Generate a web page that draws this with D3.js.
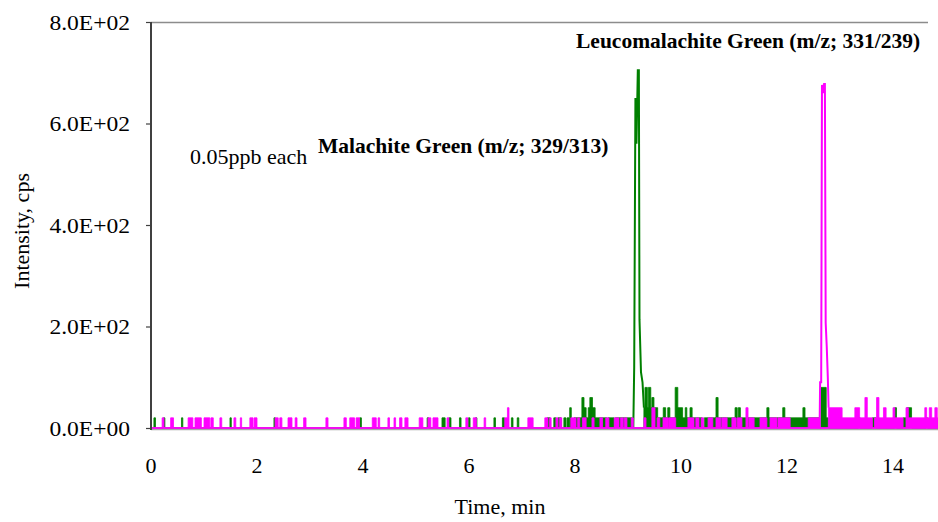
<!DOCTYPE html>
<html>
<head>
<meta charset="utf-8">
<script src="https://cdn.jsdelivr.net/npm/d3@7"></script>
<style>
  html, body { margin: 0; padding: 0; background: #fff; }
  svg { display: block; }
  text { font-family: "Liberation Serif", "Times New Roman", serif; fill: #000; }
</style>
</head>
<body>
<svg id="chart" width="938" height="522"></svg>
<script>
// ---------------- data ----------------
const xTicks = [0, 2, 4, 6, 8, 10, 12, 14];
const yTicks = [0, 200, 400, 600, 800];
const yTickLabels = ["0.0E+00", "2.0E+02", "4.0E+02", "6.0E+02", "8.0E+02"];
const xTitle = "Time, min";
const yTitle = "Intensity, cps";
const sampleNote = "0.05ppb each";
const mgLabel = "Malachite Green (m/z; 329/313)";
const lmgLabel = "Leucomalachite Green (m/z; 331/239)";

// Malachite Green noise: [start min, end min, intensity cps]
const mgNoise = [
  [0.055,0.085,20],[0.235,0.262,20],[0.575,0.60,20],[1.49,1.515,20],[2.32,2.345,20],
  [3.94,3.97,20],[5.21,5.24,20],[5.49,5.55,20],[5.62,5.66,20],[5.82,5.85,20],
  [5.99,6.02,20],[6.12,6.15,20],[6.47,6.50,20],[6.63,6.67,20],[6.80,6.83,20],
  [6.91,6.94,20],[7.47,7.53,20],[7.60,7.64,20],[7.68,7.74,20],[7.79,7.83,20],
  [7.85,7.89,20],[7.90,7.93,40],[7.98,8.13,20],[8.13,8.17,60],[8.17,8.21,40],
  [8.21,8.25,20],[8.25,8.28,40],[8.28,8.33,60],[8.33,8.38,40],[8.38,8.60,20],
  [8.62,8.74,20],[8.76,9.08,20],
  [9.30,9.32,40],[9.32,9.365,80],[9.365,9.385,40],[9.385,9.43,80],[9.43,9.45,40],
  [9.45,9.49,60],[9.49,9.56,40],[9.56,9.665,20],[9.665,9.71,40],[9.71,9.75,20],
  [9.75,9.79,40],[9.79,9.89,20],[9.89,9.94,80],[9.94,10.03,40],[10.03,10.08,20],
  [10.08,10.11,40],[10.11,10.17,20],[10.17,10.21,40],[10.21,10.40,20],[10.44,10.66,20],
  [10.66,10.70,60],[10.70,11.02,20],[11.02,11.06,40],[11.06,11.08,20],[11.08,11.12,40],
  [11.12,11.62,20],[11.62,11.66,40],[11.66,11.92,20],[11.92,11.96,40],[11.96,12.30,20],
  [12.30,12.34,40],[12.34,12.62,20],[12.64,12.74,80],[12.74,12.78,20],
  [13.35,13.38,20],[13.61,13.68,20],[14.03,14.065,40],[14.19,14.26,20],[14.26,14.35,40],
  [14.62,14.65,20]
];
// Malachite Green peak: [min, cps]
const mgPeak = [
  [9.10,0],[9.117,120],[9.14,650],[9.16,560],[9.185,705],[9.205,705],
  [9.217,213],[9.245,110],[9.274,90],[9.30,40]
];

// Leucomalachite Green noise: [start min, end min, intensity cps]
const lmgNoise = [
  [0.21,0.245,20],[0.37,0.425,20],[0.70,0.79,20],[0.83,0.95,20],[1.00,1.11,20],
  [1.13,1.175,20],[1.30,1.335,20],[1.565,1.60,20],[1.685,1.71,20],[1.865,1.925,20],
  [1.945,2.00,20],[2.34,2.40,20],[2.43,2.47,20],[2.585,2.66,20],[2.72,2.755,20],
  [2.88,2.925,20],[3.30,3.34,20],[3.64,3.685,20],[3.75,3.84,20],[3.87,3.935,20],
  [4.175,4.25,20],[4.285,4.315,20],[4.47,4.50,20],[4.585,4.615,20],[4.69,4.735,20],
  [4.79,4.85,20],[5.06,5.13,20],[5.225,5.28,20],[5.32,5.415,20],[5.585,5.62,20],
  [5.94,5.98,20],[6.08,6.14,20],[6.285,6.315,20],[6.675,6.725,20],[6.725,6.755,40],
  [7.11,7.21,20],[7.43,7.49,20],[7.52,7.55,20],[7.64,7.68,20],[7.71,7.75,20],
  [7.92,8.02,20],[8.05,8.09,20],[8.14,8.21,20],[8.32,8.36,20],[8.47,8.52,20],
  [8.58,8.64,20],[8.74,8.83,20],[8.86,8.91,20],[8.93,8.98,20],[9.06,9.10,20],
  [9.30,9.34,20],[9.45,9.51,40],[9.55,9.60,20],[9.66,9.76,20],[9.77,9.90,20],
  [10.13,10.245,20],[10.28,10.34,20],[10.38,10.43,20],[10.51,10.60,20],[10.66,10.75,20],
  [10.77,10.87,20],[10.96,11.04,20],[11.06,11.15,20],[11.225,11.265,40],[11.28,11.38,20],
  [11.49,11.62,20],[11.68,11.81,20],[11.83,12.06,20],[12.40,12.62,20],
  [12.78,13.04,40],[13.04,13.28,20],[13.28,13.37,40],[13.37,13.47,20],[13.47,13.515,60],
  [13.515,13.61,20],[13.65,13.69,20],[13.69,13.735,60],[13.735,13.82,20],[13.82,13.87,40],
  [13.87,14.0,20],[14.0,14.035,40],[14.035,14.19,20],[14.245,14.29,40],[14.29,14.60,20],
  [14.60,14.635,40],[14.635,14.685,20],[14.685,14.73,40],[14.73,14.79,20],[14.79,14.835,40],
  [14.835,14.9,20]
];
// Leucomalachite Green peak: [min, cps]
const lmgPeak = [
  [12.615,0],[12.625,90],[12.645,90],[12.66,676],[12.685,660],[12.70,678],
  [12.715,678],[12.73,207],[12.75,160],[12.77,100],[12.785,40]
];

const mgColor = "#008000";
const lmgColor = "#ff00ff";

// ---------------- layout ----------------
const svg = d3.select("#chart");
const plotLeft = 151, plotTop = 22, plotBottom = 428, frameRight = 928, dataRight = 938;
const tMax = 14.9;
const fontFamily = "Liberation Serif";

const x = d3.scaleLinear().domain([0, 14]).range([plotLeft, plotLeft + 14 * 53]);
const y = d3.scaleLinear().domain([0, 800]).range([plotBottom, plotTop]);

// build filled-noise points from runs
function runsToPoints(runs) {
  const pts = [[0, 0]];
  runs.forEach(([a, b, v]) => { pts.push([a, 0], [a, v], [b, v], [b, 0]); });
  pts.push([tMax, 0]);
  return pts;
}
// widen text slightly to match reference glyph proportions
function stretch(sel, f) {
  sel.each(function () {
    const w = this.getComputedTextLength();
    d3.select(this).attr("textLength", w * f).attr("lengthAdjust", "spacingAndGlyphs");
  });
}

svg.append("clipPath").attr("id", "clip")
  .append("rect").attr("x", plotLeft).attr("y", 0).attr("width", dataRight - plotLeft).attr("height", 440);

// frame lines
svg.append("line").attr("x1", plotLeft).attr("x2", frameRight).attr("y1", plotTop + 0.5).attr("y2", plotTop + 0.5)
  .attr("stroke", "#8c8c8c").attr("stroke-width", 1.5);
svg.append("line").attr("x1", plotLeft).attr("x2", dataRight).attr("y1", plotBottom + 1.5).attr("y2", plotBottom + 1.5)
  .attr("stroke", "#a8a8a8").attr("stroke-width", 1.5);

const area = d3.area().x(d => x(d[0])).y0(y(0)).y1(d => y(d[1]));
const line = d3.line().x(d => x(d[0])).y(d => y(d[1]));

const plot = svg.append("g").attr("clip-path", "url(#clip)");

// green (drawn first)
plot.append("path").datum(runsToPoints(mgNoise)).attr("d", area)
  .attr("fill", mgColor).attr("stroke", mgColor).attr("stroke-width", 0.8);
plot.append("path").datum(mgPeak).attr("d", line)
  .attr("fill", "none").attr("stroke", mgColor).attr("stroke-width", 2);

// magenta on top
plot.append("path").datum(runsToPoints(lmgNoise)).attr("d", area)
  .attr("fill", lmgColor).attr("stroke", lmgColor).attr("stroke-width", 0.8);
plot.append("path").datum(lmgPeak).attr("d", line)
  .attr("fill", "none").attr("stroke", lmgColor).attr("stroke-width", 2);
plot.append("path").datum([[0, 0], [tMax, 0]]).attr("d", line)
  .attr("fill", "none").attr("stroke", lmgColor).attr("stroke-width", 1.6);

// y axis
const yAxis = d3.axisLeft(y).tickValues(yTicks)
  .tickFormat((d, i) => yTickLabels[i]).tickSize(5).tickPadding(16);
const gy = svg.append("g").attr("transform", `translate(${plotLeft},0)`).call(yAxis)
  .attr("font-family", fontFamily).attr("font-size", 22);
gy.select(".domain").attr("stroke", "#404040").attr("stroke-width", 2)
  .attr("d", `M0,${plotTop}V${plotBottom + 2}`);
gy.selectAll(".tick line").attr("stroke", "#404040").attr("stroke-width", 1.2);
gy.selectAll(".tick text").attr("font-size", 22).attr("fill", "#000")
  .attr("font-family", fontFamily).call(stretch, 1.07);

// x tick labels (no tick marks)
svg.append("g").selectAll("text").data(xTicks).join("text")
  .attr("x", d => x(d)).attr("y", 473).attr("text-anchor", "middle")
  .attr("font-family", fontFamily).attr("font-size", 22).text(d => d);

// titles
svg.append("text").attr("x", 500).attr("y", 514).attr("text-anchor", "middle")
  .attr("font-family", fontFamily).attr("font-size", 22).text(xTitle);
svg.append("text").attr("transform", "translate(29,231) rotate(-90)")
  .attr("text-anchor", "middle").attr("font-family", fontFamily).attr("font-size", 22).text(yTitle);

// annotations
svg.append("text").attr("x", 190).attr("y", 164).attr("font-family", fontFamily)
  .attr("font-size", 22).text(sampleNote);
svg.append("text").attr("x", 318).attr("y", 153).attr("font-family", fontFamily).attr("font-size", 21.5)
  .attr("font-weight", "bold").text(mgLabel);
svg.append("text").attr("x", 576).attr("y", 48).attr("font-family", fontFamily).attr("font-size", 21.5)
  .attr("font-weight", "bold").text(lmgLabel);
</script>
</body>
</html>
